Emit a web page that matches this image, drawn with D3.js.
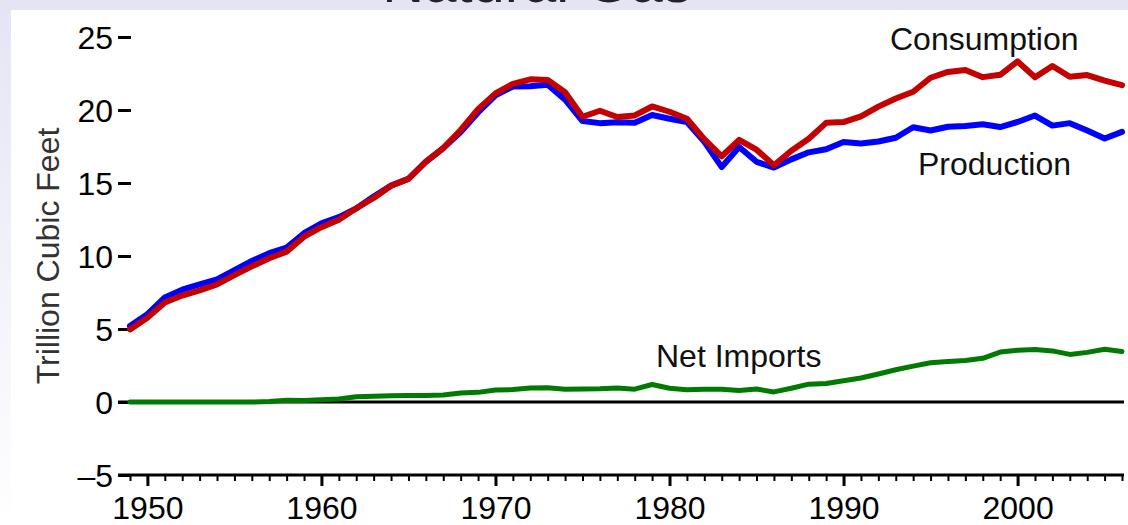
<!DOCTYPE html>
<html><head><meta charset="utf-8">
<script src="https://cdn.jsdelivr.net/npm/d3@7/dist/d3.min.js"></script>
<style>
html,body{margin:0;padding:0;background:#fff;}
svg{display:block;font-family:"Liberation Sans",Arial,sans-serif;}
</style></head>
<body>
<svg id="chart" width="1128" height="525"></svg>
<script>
const years = d3.range(1949, 2007);
const consumption = [4.97,5.77,6.81,7.29,7.64,8.05,8.69,9.29,9.85,10.30,11.32,11.97,12.49,13.27,13.97,14.81,15.28,16.45,17.39,18.63,20.06,21.14,21.79,22.10,22.05,21.22,19.54,19.95,19.52,19.63,20.24,19.88,19.40,18.00,16.83,17.95,17.28,16.22,17.21,18.03,19.12,19.17,19.56,20.23,20.79,21.25,22.21,22.61,22.74,22.25,22.41,23.33,22.24,23.01,22.28,22.39,22.01,21.70];
const production = [5.20,6.02,7.16,7.69,8.06,8.39,9.03,9.66,10.19,10.57,11.56,12.23,12.66,13.25,14.08,14.82,15.29,16.47,17.39,18.49,19.83,21.01,21.61,21.62,21.73,20.71,19.24,19.10,19.16,19.12,19.66,19.40,19.18,17.82,16.09,17.47,16.45,16.06,16.62,17.10,17.31,17.81,17.70,17.84,18.10,18.82,18.60,18.85,18.90,19.02,18.83,19.18,19.62,18.93,19.10,18.59,18.05,18.50];
const netImports = [0.00,0.00,0.00,0.00,0.00,0.00,0.00,0.00,0.03,0.12,0.11,0.15,0.21,0.36,0.40,0.43,0.44,0.45,0.48,0.61,0.66,0.82,0.85,0.96,0.98,0.88,0.89,0.90,0.96,0.88,1.20,0.94,0.84,0.88,0.87,0.79,0.89,0.69,0.94,1.22,1.27,1.45,1.64,1.92,2.21,2.46,2.69,2.78,2.84,2.99,3.42,3.54,3.60,3.50,3.26,3.40,3.61,3.46];
const yTicks = [-5, 0, 5, 10, 15, 20, 25];
const xMajorTicks = [1950, 1960, 1970, 1980, 1990, 2000];
const title = "Natural Gas";
const yLabel = "Trillion Cubic Feet";
const seriesLabels = ["Consumption", "Production", "Net Imports"];

const svg = d3.select("#chart");
const x = d3.scaleLinear().domain([1949, 2006]).range([130, 1122]);
const y = d3.scaleLinear().domain([-5, 25]).range([475, 37]);

// background bands
const defs = svg.append("defs");
const lg = defs.append("linearGradient").attr("id","lg").attr("x1",0).attr("y1",0).attr("x2",0).attr("y2",1);
lg.append("stop").attr("offset","0%").attr("stop-color","#e4e4f5");
lg.append("stop").attr("offset","100%").attr("stop-color","#ffffff");
svg.append("rect").attr("x",0).attr("y",0).attr("width",1128).attr("height",525).attr("fill","#fff");
svg.append("rect").attr("x",0).attr("y",0).attr("width",11).attr("height",525).attr("fill","url(#lg)");
svg.append("rect").attr("x",0).attr("y",0).attr("width",1128).attr("height",10).attr("fill","#e4e4f5");

// title (cut off at top, as in the reference)
svg.append("text").attr("x",537).attr("y",2).attr("text-anchor","middle")
  .attr("font-size",58).attr("fill","#222").text(title);

const fs = 32;
// y axis
const yAxis = d3.axisLeft(y).tickValues(yTicks).tickSize(13).tickPadding(5)
  .tickFormat(d => d < 0 ? "\u2013" + Math.abs(d) : d);
const gy = svg.append("g").attr("transform","translate(131,0)").call(yAxis);
gy.select(".domain").remove();
gy.selectAll(".tick line").attr("stroke","#000").attr("stroke-width",3);
gy.selectAll(".tick text").attr("font-size",fs).attr("fill","#000")
  .attr("font-family","'Liberation Sans',Arial,sans-serif").attr("dy","0.36em");

// x axis
const gx = svg.append("g").attr("transform","translate(0,475)");
gx.append("line").attr("x1",118).attr("x2",1124).attr("y1",0).attr("y2",0).attr("stroke","#000").attr("stroke-width",3);
const xAxisMinor = d3.axisBottom(x).tickValues(years).tickSize(6).tickFormat("");
const gxm = gx.append("g").call(xAxisMinor);
gxm.select(".domain").remove();
gxm.selectAll(".tick line").attr("stroke","#000").attr("stroke-width",2);
const xAxisMajor = d3.axisBottom(x).tickValues(xMajorTicks).tickSize(11).tickPadding(10).tickFormat(d3.format("d"));
const gxM = gx.append("g").call(xAxisMajor);
gxM.select(".domain").remove();
gxM.selectAll(".tick line").attr("stroke","#000").attr("stroke-width",3);
gxM.selectAll(".tick text").attr("font-size",fs).attr("fill","#000")
  .attr("font-family","'Liberation Sans',Arial,sans-serif");

// zero line
svg.append("line").attr("x1",118).attr("x2",1124).attr("y1",y(0)).attr("y2",y(0)).attr("stroke","#000").attr("stroke-width",3);

// y label
svg.append("text").attr("transform",`translate(59,${y(10)}) rotate(-90)`).attr("text-anchor","middle")
  .attr("font-size",fs).attr("fill","#333").text(yLabel);

const line = d3.line().x((d,i) => x(years[i])).y(d => y(d));
svg.append("path").datum(netImports).attr("d",line).attr("fill","none").attr("stroke","#007a00").attr("stroke-width",5).attr("stroke-linejoin","round").attr("stroke-linecap","round");
svg.append("path").datum(production).attr("d",line).attr("fill","none").attr("stroke","#0000ff").attr("stroke-width",6).attr("stroke-linejoin","round").attr("stroke-linecap","round");
svg.append("path").datum(consumption).attr("d",line).attr("fill","none").attr("stroke","#c40000").attr("stroke-width",6).attr("stroke-linejoin","round").attr("stroke-linecap","round");

// series labels
svg.append("text").attr("x",890).attr("y",50).attr("font-size",fs).attr("fill","#111").text(seriesLabels[0]);
svg.append("text").attr("x",918).attr("y",175).attr("font-size",fs).attr("fill","#111").text(seriesLabels[1]);
svg.append("text").attr("x",656).attr("y",367).attr("font-size",fs).attr("fill","#111").text(seriesLabels[2]);
</script>
</body></html>
